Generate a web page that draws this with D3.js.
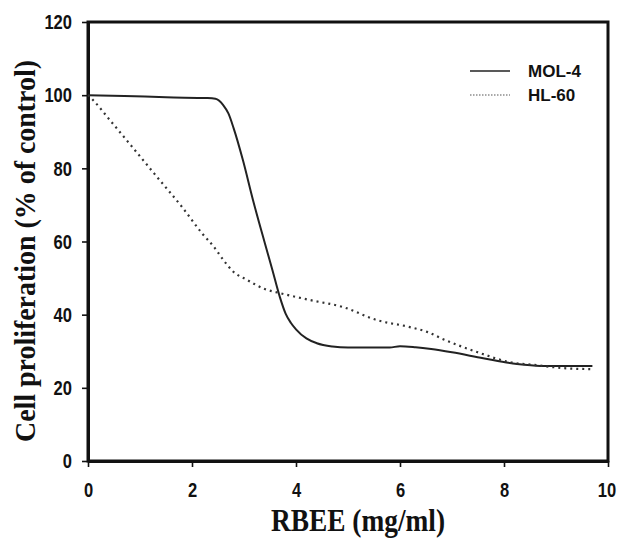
<!DOCTYPE html>
<html>
<head>
<meta charset="utf-8">
<script src="https://cdn.jsdelivr.net/npm/d3@7"></script>
<style>
  body { margin: 0; background: #fff; }
  .tick text { font-family: "Liberation Sans Narrow", "Arial Narrow", "Liberation Sans", sans-serif; font-weight: bold; font-size: 21px; fill: #111; }
</style>
</head>
<body>
<svg width="620" height="538"></svg>
<script>
// MOL-4 curve
const molX = [0, 0.7, 1.5, 2.3, 2.45, 2.6, 2.7, 2.8, 2.98, 3.17, 3.4, 3.55, 3.69, 3.8, 3.9, 4.0, 4.2, 4.4, 4.7, 5.0, 5.8, 6.0, 6.3, 6.6, 7.0, 7.6, 8.25, 8.7, 9.7];
const molY = [100, 99.8, 99.4, 99.2, 99, 97.3, 95, 91, 82.2, 71.5, 59.6, 52, 44.8, 40.3, 37.8, 36, 33.5, 32.2, 31.3, 31, 31, 31.4, 31.1, 30.6, 29.7, 28.1, 26.5, 26, 26];

// HL-60 curve
const hlX = [0, 0.1, 0.42, 0.9, 1.33, 1.81, 2.19, 2.44, 2.6, 2.79, 3.06, 3.4, 3.69, 4.27, 4.9, 5.56, 6.19, 6.52, 6.83, 7.48, 8.12, 8.63, 9.13, 9.71];
const hlY = [100, 98.6, 93.2, 85, 77.6, 69.4, 62.3, 58.2, 55, 51.8, 49.5, 47, 45.9, 44, 42.1, 38.5, 36.6, 35.3, 33.3, 29.8, 27, 26.2, 25.4, 25.1];

const xTicks = [0, 2, 4, 6, 8, 10];
const yTicks = [0, 20, 40, 60, 80, 100, 120];
const seriesNames = ["MOL-4", "HL-60"];

const svg = d3.select("svg");

const x = d3.scaleLinear().domain([0, 10]).range([88, 608]);
const y = d3.scaleLinear().domain([0, 120]).range([461, 22]);

// frame
svg.append("rect")
    .attr("x", x(0))
    .attr("y", y(120))
    .attr("width", x(10) - x(0))
    .attr("height", y(0) - y(120))
    .attr("fill", "none")
    .attr("stroke", "#111")
    .attr("stroke-width", 3);

// axes
const yAxis = svg.append("g")
    .attr("transform", `translate(${x(0)},0)`)
    .call(d3.axisLeft(y).tickValues(yTicks).tickSize(6).tickSizeOuter(0).tickPadding(10));

const xAxis = svg.append("g")
    .attr("transform", `translate(0,${y(0)})`)
    .call(d3.axisBottom(x).tickValues(xTicks).tickSize(6).tickSizeOuter(0).tickPadding(15));

[xAxis, yAxis].forEach(g => {
    g.select(".domain").attr("stroke", "#111").attr("stroke-width", 3);
    g.selectAll(".tick line").attr("stroke", "#111").attr("stroke-width", 1.6);
    // condensed digits like the original
    g.selectAll(".tick text")
        .attr("textLength", function () { return this.textContent.length * 9.2; })
        .attr("lengthAdjust", "spacingAndGlyphs");
});
// keep the last x label inside the page
xAxis.selectAll(".tick text").filter(d => d === 10).attr("dx", -1.5);

// curves
const line = d3.line()
    .x(d => x(d[0]))
    .y(d => y(d[1]))
    .curve(d3.curveMonotoneX);

svg.append("path")
    .datum(molX.map((v, i) => [v, molY[i]]))
    .attr("d", line)
    .attr("fill", "none")
    .attr("stroke", "#222")
    .attr("stroke-width", 2);

svg.append("path")
    .datum(hlX.map((v, i) => [v, hlY[i]]))
    .attr("d", line)
    .attr("fill", "none")
    .attr("stroke", "#333")
    .attr("stroke-width", 2.2)
    .attr("stroke-dasharray", "2,4");

// legend
const legend = svg.append("g");
seriesNames.forEach((name, i) => {
    const ly = 71 + i * 24;
    legend.append("line")
        .attr("x1", 470).attr("x2", 510)
        .attr("y1", ly).attr("y2", ly)
        .attr("stroke", i === 0 ? "#222" : "#555")
        .attr("stroke-width", i === 0 ? 1.5 : 1.2)
        .attr("stroke-dasharray", i === 0 ? null : "1.5,1.5");
    legend.append("text")
        .attr("x", 528)
        .attr("y", ly + 6)
        .attr("font-family", "Liberation Sans, Arial, sans-serif")
        .attr("font-weight", "bold")
        .attr("font-size", "17px")
        .attr("fill", "#111")
        .text(name);
});

// axis titles
svg.append("text")
    .attr("x", 358)
    .attr("y", 531)
    .attr("text-anchor", "middle")
    .attr("font-family", "Liberation Serif, Times New Roman, serif")
    .attr("font-weight", "bold")
    .attr("font-size", "31px")
    .attr("textLength", 174)
    .attr("lengthAdjust", "spacingAndGlyphs")
    .attr("fill", "#111")
    .text("RBEE (mg/ml)");

svg.append("text")
    .attr("transform", "translate(35,251) rotate(-90)")
    .attr("text-anchor", "middle")
    .attr("font-family", "Liberation Serif, Times New Roman, serif")
    .attr("font-weight", "bold")
    .attr("font-size", "29px")
    .attr("textLength", 382)
    .attr("lengthAdjust", "spacingAndGlyphs")
    .attr("fill", "#111")
    .text("Cell proliferation (% of control)");
</script>
</body>
</html>
